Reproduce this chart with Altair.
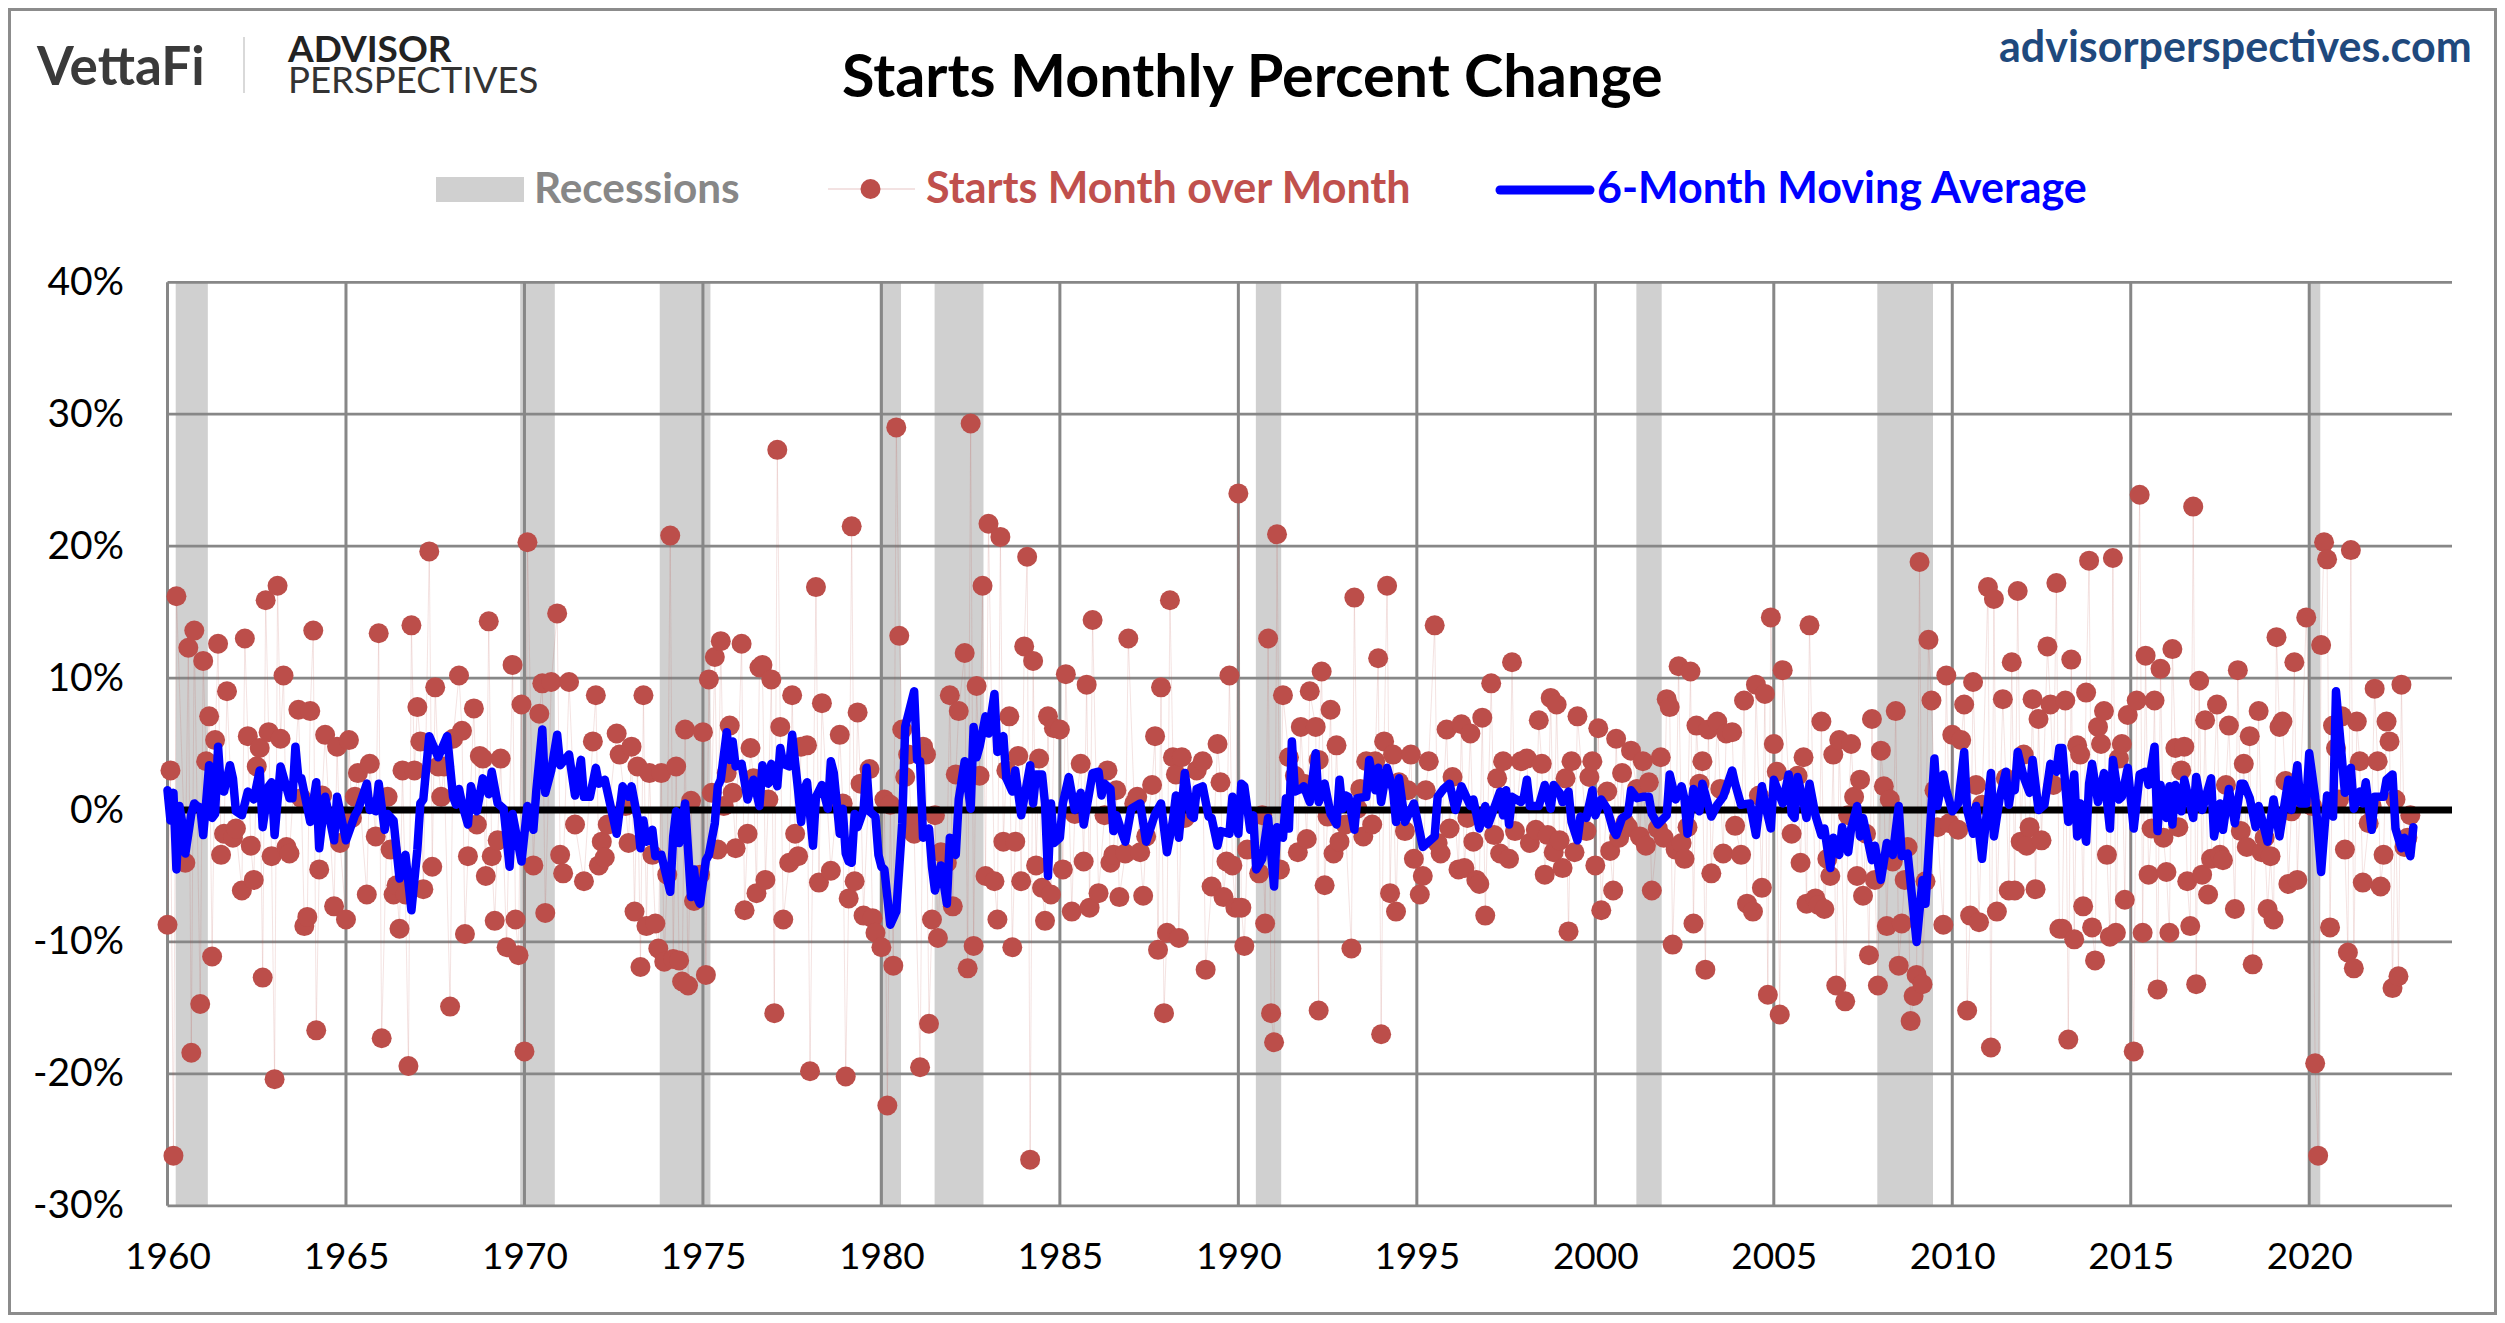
import altair as alt

# (months since Jan 1960, percent change)
starts_1960s = [(0,-8.7),(1,3.0),(2,-26.2),(3,16.2),(6,-4.0),(7,12.3),(8,-18.4),(9,13.6),(11,-14.7),(12,11.3),(13,3.7),(14,7.1),(15,-11.1),(16,5.3),(17,12.6),(18,-3.4),(19,-1.8),(20,9.0),(22,-2.1),(23,-1.4),(25,-6.1),(26,13.0),(27,5.6),(28,-2.7),(29,-5.3),(30,3.3),(31,4.7),(32,-12.7),(33,15.9),(34,5.9),(35,-3.5),(36,-20.4),(37,17.0),(38,5.4),(39,10.2),(40,-2.8),(41,-3.3),(44,7.6),(45,0.9),(46,-8.8),(47,-8.1),(48,7.5),(49,13.6),(50,-16.7),(51,-4.5),(52,1.1),(53,5.7),(56,-7.3),(57,4.8),(58,-2.5),(60,-8.3),(61,5.3),(62,-0.6),(63,1.0),(64,2.8),(67,-6.4),(68,3.5),(70,-2.0),(71,13.4),(72,-17.3),(74,1.0),(75,-3.0),(76,-6.4),(77,-5.7),(78,-9.0),(79,3.0),(80,-6.4),(81,-19.4),(82,14.0),(83,3.0),(84,7.8),(85,5.2),(86,-6.0),(88,19.6),(89,-4.3),(90,9.3),(91,3.3),(92,1.0),(93,3.3),(95,-14.9),(96,5.4),(98,10.2),(99,6.0),(100,-9.4),(101,-3.5),(103,7.7),(104,-1.1),(105,4.1),(106,3.9),(107,-5.0),(108,14.3),(109,-3.5),(110,-8.4),(111,-2.3),(112,3.9),(114,-10.4),(116,11.0),(117,-8.3),(118,-11.0),(119,8.0)]
starts_1970s = [(120,-18.3),(121,20.3),(123,-4.2),(125,7.3),(126,9.6),(127,-7.8),(129,9.7),(131,14.9),(132,-3.4),(133,-4.8),(135,9.7),(137,-1.1),(140,-5.4),(143,5.2),(144,8.7),(145,-4.2),(146,-2.4),(147,-3.6),(148,-1.1),(151,5.8),(152,4.2),(154,0.3),(155,-2.5),(156,4.8),(157,-7.7),(158,3.3),(159,-11.9),(160,8.7),(161,-8.8),(162,2.8),(163,-3.4),(164,-8.6),(165,-10.5),(166,2.8),(167,-11.5),(168,-4.9),(169,20.8),(170,-11.3),(171,3.3),(172,-11.4),(173,-13.0),(174,6.1),(175,-13.3),(176,0.7),(177,-6.9),(179,-4.9),(180,5.9),(181,-12.5),(182,9.9),(183,1.3),(184,11.6),(185,-3.0),(186,12.8),(187,0.3),(188,2.8),(189,6.4),(190,1.3),(191,-2.9),(193,12.6),(194,-7.6),(195,-1.8),(196,4.7),(197,2.4),(198,-6.3),(199,10.8),(200,11.0),(201,-5.3),(202,0.8),(203,9.9),(204,-15.4),(205,27.3),(206,6.3),(207,-8.3),(209,-4.0),(210,8.7),(211,-1.8),(212,-3.5),(213,4.8),(215,4.9),(216,-19.8),(218,16.9),(219,-5.5),(220,8.1),(223,-4.6),(225,0.5),(226,5.7),(227,0.5),(228,-20.2),(229,-6.7),(230,21.5),(231,-5.4),(232,7.4),(233,2.0),(234,-8.0),(236,3.1),(237,-8.2),(238,-9.3)]
starts_1980s = [(240,-10.4),(241,0.8),(242,-22.4),(243,0.4),(244,-11.8),(245,29.0),(246,13.2),(247,6.1),(248,2.5),(249,4.2),(250,-0.8),(251,-1.8),(253,-19.5),(254,4.8),(255,4.2),(256,-16.2),(257,-8.3),(258,-0.4),(259,-9.7),(260,-3.2),(262,-4.0),(263,8.7),(264,-7.3),(265,2.7),(266,7.5),(268,11.9),(269,-12.0),(270,29.3),(271,-10.3),(272,9.4),(273,2.6),(274,17.0),(275,-5.0),(276,21.7),(278,-5.4),(279,-8.3),(280,20.7),(281,-2.4),(282,3.0),(283,7.1),(284,-10.4),(285,-2.4),(286,4.1),(287,-5.4),(288,12.4),(289,19.2),(290,-26.5),(291,11.3),(292,-4.2),(293,3.9),(294,-5.9),(295,-8.4),(296,7.1),(297,-6.4),(298,6.2),(300,6.1),(301,-4.5),(302,10.3),(304,-7.7),(305,-0.3),(307,3.5),(308,-3.9),(309,9.5),(310,-7.4),(311,14.4),(313,-6.3),(315,-0.4),(316,3.0),(317,-4.0),(318,-3.4),(319,1.5),(320,-6.6),(322,-3.3),(323,13.0),(325,0.5),(326,1.0),(327,-3.2),(328,-6.5),(329,-2.0),(331,1.9),(332,5.6),(333,-10.6),(334,9.3),(335,-15.4),(336,-9.3),(337,15.9),(338,4.0),(339,2.7),(340,-9.7),(341,4.0),(342,-0.6),(346,3.0),(348,3.7),(349,-12.1),(351,-5.8),(353,5.0),(354,2.1),(355,-6.6),(356,-3.9),(357,10.2),(358,-4.2),(359,-7.4)]
starts_1990s = [(360,24.0),(361,-7.4),(362,-10.3),(363,-3.0),(367,-4.8),(368,-0.4),(369,-8.6),(370,13.0),(371,-15.4),(372,-17.6),(373,20.9),(374,-4.5),(375,8.7),(377,4.0),(379,2.6),(380,-3.2),(381,6.3),(382,2.0),(383,-2.2),(384,9.0),(386,6.3),(387,3.8),(387,-15.2),(388,10.5),(389,-5.7),(390,-0.5),(391,7.6),(392,-3.3),(393,4.9),(394,-2.4),(396,-1.1),(398,-10.5),(399,16.1),(400,0.1),(401,1.6),(402,-2.0),(403,3.7),(405,-1.1),(406,3.7),(407,11.5),(408,-17.0),(409,5.2),(410,17.0),(411,-6.3),(412,4.2),(413,-7.7),(414,2.1),(416,-1.6),(417,1.5),(418,4.2),(419,-3.7),(421,-6.4),(422,-5.0),(423,1.5),(424,3.7),(426,14.0),(427,-2.5),(428,-3.3),(430,6.1),(431,-1.4),(432,2.5),(434,-4.5),(435,6.5),(436,-4.4),(437,-0.6),(438,5.8),(439,-2.4),(440,-5.3),(441,-5.6),(442,7.0),(443,-8.0),(445,9.6),(446,-1.9),(447,2.4),(448,-3.3),(449,3.7),(451,-3.7),(452,11.2),(453,-1.6),(455,3.7),(457,3.9),(458,-2.5),(460,-1.5),(461,6.8),(462,3.5),(463,-4.9),(464,-1.9),(465,8.5),(466,-3.2),(467,8.0),(468,-2.3),(469,-4.4),(470,2.4),(471,-9.2),(472,3.7),(473,-3.2),(474,7.1),(477,-1.6),(478,2.5),(479,3.7)]
starts_2000s = [(480,-4.2),(481,6.2),(482,-7.6),(484,1.4),(485,-3.1),(486,-6.1),(487,5.4),(488,-2.1),(489,2.8),(490,-1.0),(491,-1.3),(492,4.5),(494,1.6),(495,-2.0),(496,3.7),(497,-2.7),(498,2.1),(499,-6.1),(501,-1.4),(502,4.0),(503,-2.1),(504,8.4),(505,7.8),(506,-10.2),(507,-3.0),(508,10.9),(509,-2.5),(510,-3.7),(511,-1.3),(512,10.5),(513,-8.6),(514,6.4),(515,2.0),(516,3.7),(517,-12.1),(518,6.1),(519,-4.8),(521,6.7),(522,1.6),(523,-3.3),(524,5.8),(526,5.9),(527,-1.2),(529,-3.4),(530,8.3),(531,-7.1),(533,-7.7),(534,9.5),(535,1.1),(536,-5.9),(537,8.8),(538,-14.0),(539,14.6),(540,5.0),(541,2.9),(542,-15.5),(543,10.6),(546,-1.8),(548,2.6),(549,-4.0),(550,4.0),(551,-7.1),(552,14.0),(554,-6.7),(555,-7.2),(556,6.7),(557,-7.5),(558,-3.7),(559,-5.0),(560,4.2),(561,-13.3),(562,5.3),(564,-14.5),(565,-0.4),(566,5.0),(567,1.0),(568,-5.0),(569,2.3),(570,-6.5),(571,-1.8),(572,-11.0),(573,6.9),(574,-5.3),(575,-13.3),(576,4.5),(577,1.8),(578,-8.8),(579,0.8),(580,-3.9),(581,7.5),(582,-11.8),(583,-8.6),(584,-5.3),(585,-2.8),(586,-16.0),(587,-14.1),(588,-12.5),(589,18.8),(590,-13.2),(591,-5.4),(592,12.9),(593,8.3),(594,1.5),(595,-1.3),(597,-8.7),(598,10.2),(599,-1.0)]
starts_2010s = [(600,5.7),(602,-1.5),(603,5.3),(604,8.0),(605,-15.2),(606,-8.0),(607,9.7),(608,1.9),(609,-8.5),(610,0.4),(612,16.9),(613,-18.0),(614,16.0),(615,-7.7),(617,8.4),(618,2.4),(619,-6.1),(620,11.2),(621,-6.1),(622,16.6),(623,-2.4),(624,4.2),(625,-2.7),(626,-1.3),(627,8.4),(628,-6.0),(629,6.9),(630,-2.3),(632,12.4),(633,8.0),(634,1.9),(635,17.2),(636,-9.0),(637,-9.0),(638,8.3),(639,-17.4),(640,11.4),(641,-9.8),(642,4.9),(643,4.2),(644,-7.3),(645,8.9),(646,18.9),(647,-8.9),(648,-11.4),(649,6.3),(650,5.0),(651,7.5),(652,-3.4),(653,-9.6),(654,19.1),(655,-9.3),(656,3.9),(657,5.0),(658,-6.8),(659,7.2),(661,-18.3),(662,8.3),(663,23.9),(664,-9.3),(665,11.7),(666,-4.9),(667,-1.4),(668,8.3),(669,-13.6),(670,10.7),(671,-2.1),(672,-4.7),(673,-9.3),(674,12.2),(675,4.7),(676,-1.3),(677,3.0),(678,4.8),(679,-5.4),(680,-8.8),(681,23.0),(682,-13.2),(683,9.8),(684,-4.9),(685,6.8),(686,-6.4),(687,-3.7),(689,8.0),(690,-3.4),(691,-3.8),(692,1.9),(693,6.4),(695,-7.5),(696,10.6),(697,-1.6),(698,3.5),(699,-2.8),(700,5.6),(701,-11.7),(703,7.5),(704,-3.2),(705,-2.1),(706,-7.5),(707,-3.5),(708,-8.3),(709,13.1),(710,6.3),(711,6.7),(712,2.2),(713,-5.6),(714,-0.1),(715,11.2),(716,-5.3),(719,14.6)]
starts_2020s = [(721,0.3),(722,-19.2),(723,-26.2),(724,12.5),(725,20.3),(726,19.0),(727,-8.9),(728,6.4),(729,4.7),(730,0.8),(731,7.1),(732,-3.0),(733,-10.8),(734,19.7),(735,-12.0),(736,6.7),(737,3.7),(738,-5.5),(740,-1.0),(741,0.3),(742,9.2),(743,3.7),(744,-5.8),(745,-3.4),(746,6.7),(747,5.2),(748,-13.5),(749,0.8),(750,-12.6),(751,9.5),(752,-2.8),(753,-2.1),(754,-0.4)]

avg_1960s = [(0,1.5),(1,-0.8),(2,1.3),(3,-4.5),(4,0.3),(5,-1.0),(6,-3.3),(7,-1.8),(8,-0.3),(9,0.5),(10,0.3),(11,0.2),(12,-1.9),(13,0.6),(14,3.4),(15,-0.6),(16,-0.3),(17,4.8),(18,1.5),(19,1.4),(21,3.4),(22,2.4),(23,-0.1),(25,-0.4),(27,1.4),(29,0.8),(31,3.0),(32,-1.3),(34,1.8),(35,2.1),(36,-1.9),(38,3.3),(41,0.9),(42,0.9),(43,4.8),(44,2.4),(45,2.4),(48,-0.9),(50,2.1),(51,-2.9),(53,1.0),(56,-2.3),(57,1.0),(60,-2.3),(63,-0.4),(64,0.0),(67,2.0),(68,0.0),(69,0.6),(70,-0.1),(71,2.0),(73,-1.5),(74,-0.3),(76,-0.8),(78,-5.2),(80,-3.4),(82,-7.6),(84,-3.0),(85,0.5),(86,0.8),(88,5.6),(91,4.0),(94,5.6),(96,1.0),(97,0.4),(98,1.6),(99,0.5),(101,-1.1),(102,1.8),(104,-0.1),(106,2.4),(108,1.2),(109,2.9),(111,0.5),(113,0.1),(115,-4.3),(116,-0.3),(119,-3.9)]
avg_1970s = [(121,0.3),(123,-1.5),(124,1.5),(126,6.1),(127,1.3),(129,3.0),(131,5.7),(132,3.4),(135,4.2),(137,1.1),(139,3.8),(140,1.0),(142,1.0),(144,3.2),(145,2.0),(147,2.3),(151,-1.8),(153,1.8),(155,1.0),(156,1.8),(158,-0.6),(159,-2.9),(160,-0.8),(161,-2.4),(163,-1.5),(164,-3.5),(166,-3.4),(169,-6.2),(170,-2.0),(171,-0.1),(172,-2.5),(174,0.5),(176,-6.6),(177,-4.5),(178,-6.6),(179,-7.1),(181,-3.8),(182,-3.4),(184,-1.0),(185,1.8),(186,2.3),(188,5.9),(189,3.8),(190,5.2),(191,3.3),(193,3.5),(195,0.8),(197,2.3),(199,0.3),(200,3.4),(202,2.0),(203,3.5),(205,1.8),(206,4.7),(207,3.5),(209,3.3),(210,5.7),(212,1.5),(213,-0.9),(214,1.5),(215,2.1),(217,-2.7),(218,1.0),(220,1.9),(222,0.1),(223,3.7),(224,2.8),(226,-1.8),(227,0.1),(228,-3.3),(229,-3.9),(230,-4.0),(231,-0.3),(232,-1.3),(234,0.0),(235,3.2),(236,-0.1),(238,-0.5),(239,-3.4)]
avg_1980s = [(240,-4.3),(241,-4.5),(243,-8.7),(245,-7.7),(247,-1.0),(248,6.3),(251,9.0),(252,3.8),(253,3.7),(254,-2.1),(256,-1.4),(257,-4.3),(258,-6.1),(260,-4.2),(262,-7.1),(263,-2.1),(265,-3.4),(266,0.8),(268,3.7),(270,0.1),(271,6.3),(272,4.0),(273,4.8),(275,7.1),(276,5.8),(278,8.8),(279,4.4),(281,5.6),(282,2.4),(284,1.4),(285,3.0),(287,-0.4),(290,3.4),(291,0.5),(292,2.7),(294,2.7),(295,0.5),(296,-5.0),(297,0.5),(298,-2.5),(300,-2.1),(301,0.5),(303,2.5),(305,0.0),(307,1.3),(308,-1.1),(311,2.8),(313,2.9),(314,1.1),(315,2.0),(317,1.6),(318,-1.6),(319,-0.4),(321,-1.8),(322,-2.4),(324,0.1),(327,0.5),(329,-2.4),(332,-0.3),(334,0.5),(336,-3.2),(338,-0.8),(339,1.1),(340,-2.1),(342,2.8),(344,-0.4),(345,-0.6),(346,1.6),(348,1.8),(350,-0.5),(351,-0.6),(353,-2.7),(354,-1.6),(357,-1.8),(358,1.0)]
avg_1990s = [(360,-1.8),(361,2.0),(362,1.8),(364,-1.5),(365,-0.4),(366,-4.5),(368,-3.7),(370,-0.6),(372,-5.8),(373,-1.3),(375,-2.1),(376,0.9),(377,-1.4),(378,5.2),(379,1.4),(381,1.6),(382,1.8),(384,0.6),(386,4.3),(387,0.6),(389,2.0),(391,-0.3),(393,-1.1),(394,2.3),(395,0.1),(396,1.1),(397,1.0),(399,-1.5),(400,0.9),(403,1.0),(404,3.8),(406,1.5),(407,3.2),(408,0.6),(410,3.2),(412,1.5),(413,-0.9),(414,2.4),(416,-0.9),(419,0.5),(422,-2.8),(426,-2.0),(427,1.0),(429,1.6),(431,2.0),(433,0.0),(435,1.8),(438,0.3),(439,0.8),(441,-1.4),(443,0.3),(444,-1.1),(448,1.4),(449,-0.4),(450,1.5),(451,-1.1),(452,1.0),(455,0.6),(456,1.0),(457,2.3),(458,0.3),(461,0.3),(463,1.9),(465,0.1),(466,1.9),(468,1.3),(469,0.6),(471,1.4),(472,-0.9),(474,-2.3),(475,-0.5),(477,-0.6),(479,1.5)]
avg_2000s = [(480,-0.4),(482,0.8),(484,0.1),(486,-1.5),(487,-1.9),(489,-0.6),(491,-0.3),(492,1.5),(494,0.9),(496,1.0),(498,1.0),(499,-0.3),(501,-1.1),(504,-0.4),(505,2.7),(507,0.8),(509,1.8),(510,0.8),(511,-1.8),(513,1.6),(515,-0.1),(516,2.0),(519,-0.5),(521,0.4),(523,1.0),(526,3.0),(527,2.0),(529,0.4),(532,0.5),(534,-1.9),(536,1.8),(537,0.5),(539,-1.4),(540,2.3),(543,0.5),(545,2.7),(546,-0.3),(547,-0.6),(548,2.5),(550,0.6),(551,-0.6),(552,2.0),(554,-0.4),(556,-1.9),(557,-1.4),(559,-4.4),(560,-2.1),(562,-3.4),(563,-1.3),(565,-3.2),(566,-1.4),(568,0.3),(569,-2.0),(570,-0.6),(573,-3.8),(574,-2.7),(576,-5.3),(578,-2.5),(580,-3.4),(582,0.3),(583,-3.5),(585,-3.3),(588,-10.0),(590,-5.3),(591,-7.1),(594,3.9),(595,0.3),(597,2.7),(598,1.5)]
avg_2010s = [(600,-0.1),(602,0.5),(604,4.4),(605,0.0),(607,-1.8),(608,0.3),(610,-3.7),(613,2.8),(614,-2.0),(616,1.0),(618,2.9),(619,0.4),(620,1.8),(621,1.5),(622,4.4),(624,2.5),(626,1.3),(627,3.8),(629,0.0),(631,0.4),(633,3.5),(635,2.9),(636,4.7),(637,4.7),(639,-0.9),(641,2.7),(642,-2.0),(643,0.5),(645,-2.4),(646,2.0),(647,3.5),(649,0.6),(651,2.8),(653,-1.4),(654,3.8),(656,0.8),(657,1.0),(659,3.2),(661,-1.4),(663,2.7),(665,2.9),(666,1.9),(668,4.8),(669,-1.6),(670,1.9),(672,-0.6),(673,1.8),(674,-1.1),(675,1.9),(677,-0.1),(678,2.3),(681,-0.6),(682,2.5),(684,0.0),(687,2.4),(688,-2.0),(690,0.5),(691,-1.5),(693,1.6),(695,-1.0),(697,2.0),(698,2.0),(700,0.9),(702,-1.3),(703,0.3),(706,-2.4),(708,0.8),(710,-2.0),(713,2.3),(714,0.0),(716,3.4),(717,0.5),(719,0.5)]
avg_2020s = [(720,4.3),(722,1.0),(724,-4.7),(725,-1.8),(726,1.1),(728,-0.5),(729,9.0),(732,1.3),(734,3.2),(735,0.1),(737,1.4),(738,0.5),(739,2.1),(741,-1.5),(742,1.0),(745,1.0),(746,2.3),(748,2.7),(749,-1.4),(751,-2.9),(752,-2.1),(754,-3.5),(755,-1.3)]

recession_starts = [1960.23, 1969.88, 1973.79, 1979.95, 1981.49, 1990.49, 2001.15, 2007.90, 2020.00]
recession_ends = [1961.13, 1970.85, 1975.21, 1980.55, 1982.86, 1991.20, 2001.86, 2009.46, 2020.31]
x_ticks = [1960, 1965, 1970, 1975, 1980, 1985, 1990, 1995, 2000, 2005, 2010, 2015, 2020]
y_ticks = [-30, -20, -10, 0, 10, 20, 30, 40]

starts = sorted(starts_1960s + starts_1970s + starts_1980s + starts_1990s + starts_2000s + starts_2010s + starts_2020s)
avg = sorted(avg_1960s + avg_1970s + avg_1980s + avg_1990s + avg_2000s + avg_2010s + avg_2020s)
starts_rows = [{"x": 1960 + m / 12, "y": v} for m, v in starts]
avg_rows = [{"x": 1960 + m / 12, "y": v} for m, v in avg]
rec_rows = [{"a": a, "b": b} for a, b in zip(recession_starts, recession_ends)]

W, H = 2284.5, 923.5
OX, OY = 167.5, 282.3
FONT = "Lato"
GRID = "#878787"
RED = "#BC4E4A"

xs = alt.Scale(domain=[1960, 2024], nice=False, zero=False)
ys = alt.Scale(domain=[-30, 40], nice=False, zero=False)
x_axis = alt.Axis(
    values=x_ticks, format="d", title=None, grid=False, domain=False, ticks=False,
    labelFont=FONT, labelFontSize=37, labelColor="black", labelPadding=34, labelOverlap=False, labelFlush=False
)
y_axis = alt.Axis(
    values=y_ticks, labelExpr="datum.value + '%'", title=None, grid=False, domain=False, ticks=False,
    labelFont=FONT, labelFontSize=39, labelColor="black", labelPadding=44, labelOverlap=False, labelFlush=False
)
X = alt.X("x:Q", scale=xs, axis=x_axis)
Y = alt.Y("y:Q", scale=ys, axis=y_axis)


def txt(label, x, y, size, color, weight="normal", align="left"):
    return alt.Chart(alt.Data(values=[{"t": label}])).mark_text(
        font=FONT, fontSize=size, color=color, fontWeight=weight, align=align, baseline="alphabetic"
    ).encode(text="t:N", x=alt.value(x - OX), y=alt.value(y - OY))


def seg(x1, x2, y, color, width, cap="butt", y2=None):
    return alt.Chart(alt.Data(values=[{"a": 1}])).mark_rule(color=color, strokeWidth=width, strokeCap=cap).encode(
        x=alt.value(x1 - OX), x2=alt.value(x2 - OX), y=alt.value(y - OY),
        **({} if y2 is None else {"y2": alt.value(y2 - OY)})
    )


rec = alt.Chart(alt.Data(values=rec_rows)).mark_rect(color="#D0D0D0").encode(
    x=alt.X("a:Q", scale=xs, axis=x_axis), x2="b:Q", y=alt.value(0), y2=alt.value(H)
)
vgrid = alt.Chart(alt.Data(values=[{"x": v} for v in x_ticks])).mark_rule(color=GRID, strokeWidth=3).encode(x=X)
hgrid = alt.Chart(alt.Data(values=[{"y": v} for v in y_ticks])).mark_rule(color=GRID, strokeWidth=2.75).encode(y=Y)
pink = alt.Chart(alt.Data(values=starts_rows)).mark_line(color=RED, opacity=0.16, strokeWidth=1).encode(x=X, y=Y)
dots = alt.Chart(alt.Data(values=starts_rows)).mark_point(filled=True, color=RED, opacity=1, size=400).encode(x=X, y=Y)
zero = alt.Chart(alt.Data(values=[{"y": 0}])).mark_rule(color="black", strokeWidth=7).encode(y=Y)
blue = alt.Chart(alt.Data(values=avg_rows)).mark_line(color="#0000FF", strokeWidth=8.5, strokeJoin="round", strokeCap="round").encode(x=X, y=Y)

frame = alt.Chart(alt.Data(values=[{"a": 1}])).mark_rect(fill="transparent", stroke="#8C8C8C", strokeWidth=3).encode(
    x=alt.value(8 - OX + 1.5), x2=alt.value(2497 - OX - 1.5), y=alt.value(8 - OY + 1.5), y2=alt.value(1315 - OY - 1.5)
)

legend_marker = alt.Chart(alt.Data(values=[{"a": 1}])).mark_point(filled=True, color=RED, opacity=1, size=400).encode(
    x=alt.value(870.5 - OX), y=alt.value(189 - OY)
)
legend_box = alt.Chart(alt.Data(values=[{"a": 1}])).mark_rect(color="#D0D0D0").encode(
    x=alt.value(436 - OX), x2=alt.value(524 - OX), y=alt.value(177 - OY), y2=alt.value(202 - OY)
)

chart = alt.layer(
    frame, rec, vgrid, hgrid, pink, dots, zero, blue,
    txt("Starts Monthly Percent Change", 842, 97, 59.3, "black", "bold"),
    txt("advisorperspectives.com", 1999, 62, 43, "#1F497D", "bold"),
    txt("VettaFi", 37, 85, 53, "#3A3A3A", "bold"),
    seg(244, 244, 37, "#D9D9D9", 2, y2=93),
    txt("ADVISOR", 288, 62, 37, "#222222", "bold"),
    txt("PERSPECTIVES", 288, 93, 36.6, "#333333"),
    legend_box,
    txt("Recessions", 534, 203, 42.3, "#878787", "bold"),
    seg(828, 915, 189, "#EFD9D9", 1.5),
    legend_marker,
    txt("Starts Month over Month", 926, 203, 43, "#C0504D", "bold"),
    seg(1500, 1590, 190, "#0000FF", 9, "round"),
    txt("6-Month Moving Average", 1597, 203, 43, "#0000FF", "bold"),
).properties(
    width=W, height=H,
    autosize=alt.AutoSizeParams(type="none"),
    padding={"left": OX - 8, "top": OY - 8, "right": 2497 - OX - W, "bottom": 1315 - OY - H},
    background="white",
).configure_view(stroke=None)

chart.save("out.html", embed_options={"renderer": "svg", "actions": False})
